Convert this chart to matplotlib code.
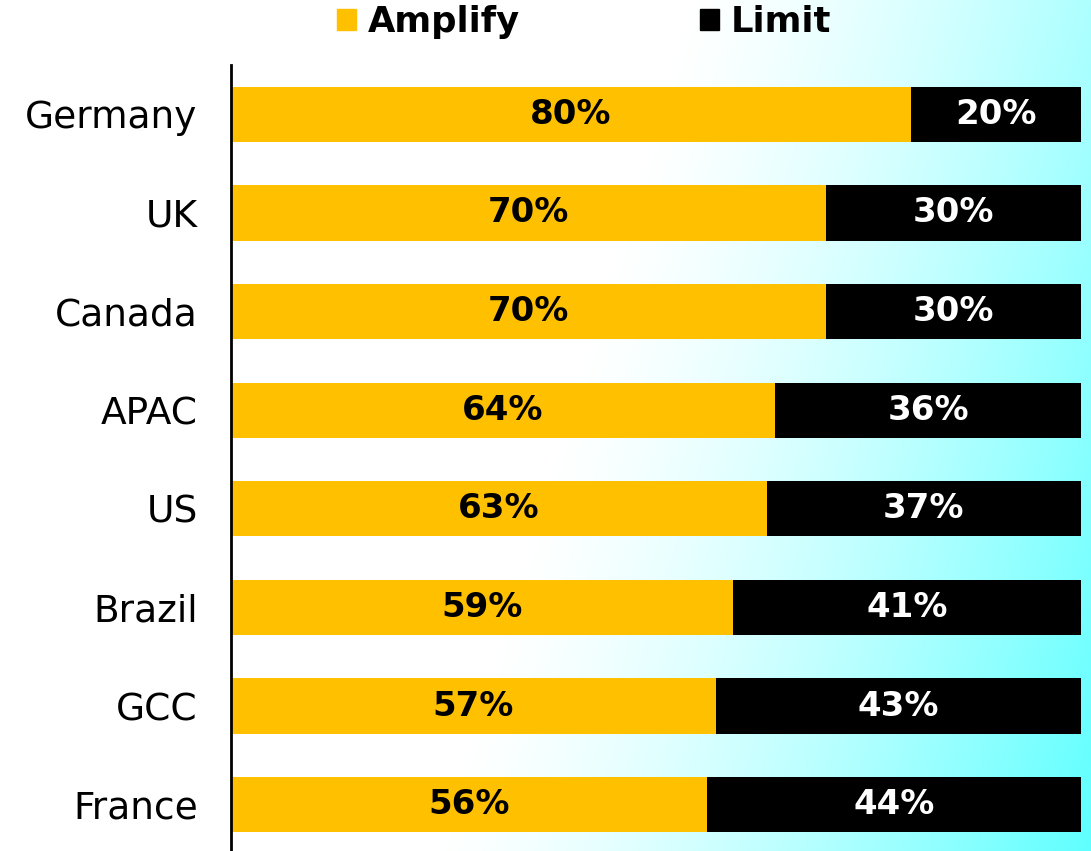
import numpy as np
import matplotlib
matplotlib.use("Agg")
import matplotlib.pyplot as plt
from matplotlib.patches import Patch
from matplotlib.colors import LinearSegmentedColormap

countries = ["Germany", "UK", "Canada", "APAC", "US", "Brazil", "GCC", "France"]
amplify = [80, 70, 70, 64, 63, 59, 57, 56]
limit = [20, 30, 30, 36, 37, 41, 43, 44]
series_names = ["Amplify", "Limit"]

YELLOW = "#FFC000"
BLACK = "#000000"
FONT = "DejaVu Sans"

W, H = 1091, 851
fig = plt.figure(figsize=(W / 100, H / 100), dpi=100)

# gradient background (diagonal white -> cyan)
bg = fig.add_axes([0, 0, 1, 1], zorder=-10)
xx, yy = np.meshgrid(np.arange(W), np.arange(H))
s = xx + 0.3 * yy
t = np.clip((s - 680) / 666, 0, 1) ** 1.4
cmap = LinearSegmentedColormap.from_list("g", ["#FFFFFF", "#5FFFFF"])
bg.imshow(t, cmap=cmap, aspect="auto", extent=[0, W, H, 0], vmin=0, vmax=1)
bg.axis("off")

ax = fig.add_axes([231 / W, 0, (1081 - 231) / W, 1 - 65 / H])
ax.patch.set_alpha(0)
y = np.arange(len(countries))
h = 0.56
ax.barh(y, amplify, height=h, color=YELLOW, label=series_names[0])
ax.barh(y, limit, left=amplify, height=h, color=BLACK, label=series_names[1])

for i, (a, l) in enumerate(zip(amplify, limit)):
    ax.text(a / 2, i, f"{a}%", ha="center", va="center", fontsize=24.5,
            fontweight="bold", color="black", family=FONT)
    ax.text(a + l / 2, i, f"{l}%", ha="center", va="center", fontsize=24.5,
            fontweight="bold", color="white", family=FONT)

ax.set_xlim(0, 100)
ax.set_ylim(7.47, -0.5)
ax.set_yticks(y)
ax.set_yticklabels(countries, fontsize=27, family=FONT)
ax.tick_params(axis="y", length=0, pad=24)
ax.set_xticks([])
for sp in ["top", "right", "bottom"]:
    ax.spines[sp].set_visible(False)
ax.spines["left"].set_linewidth(2)
ax.spines["left"].set_color("black")

handles = [Patch(color=YELLOW), Patch(color=BLACK)]
fig.legend(handles, series_names, loc="center", bbox_to_anchor=(584 / W, 1 - 22 / H),
           ncol=2, frameon=False, prop={"family": FONT, "weight": "bold", "size": 25.5},
           handlelength=0.54, handleheight=0.54, handletextpad=0.32, columnspacing=5.1,
           borderpad=0, borderaxespad=0)

fig.savefig("out.png", dpi=100)
